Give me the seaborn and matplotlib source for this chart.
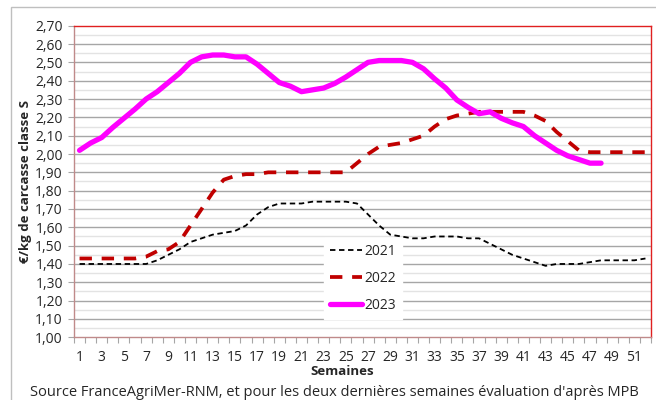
import numpy as np
import pandas as pd
import matplotlib
matplotlib.use("Agg")
import matplotlib.pyplot as plt
import seaborn as sns
from matplotlib.ticker import FuncFormatter, MultipleLocator
from matplotlib.patches import Rectangle

# Weekly prices (EUR/kg carcass, class S)
weeks = list(range(1, 53))

prix_2021 = [1.40, 1.40, 1.40, 1.40, 1.40, 1.40, 1.40, 1.42, 1.45, 1.48,
             1.52, 1.54, 1.56, 1.57, 1.58, 1.61, 1.67, 1.71, 1.73, 1.73,
             1.73, 1.74, 1.74, 1.74, 1.74, 1.73, 1.67, 1.61, 1.56, 1.55,
             1.54, 1.54, 1.55, 1.55, 1.55, 1.54, 1.54, 1.51, 1.48, 1.45,
             1.43, 1.41, 1.39, 1.40, 1.40, 1.40, 1.41, 1.42, 1.42, 1.42,
             1.42, 1.43]

prix_2022 = [1.43, 1.43, 1.43, 1.43, 1.43, 1.43, 1.44, 1.47, 1.48, 1.52,
             1.61, 1.70, 1.79, 1.86, 1.88, 1.89, 1.89, 1.90, 1.90, 1.90,
             1.90, 1.90, 1.90, 1.90, 1.90, 1.95, 2.00, 2.04, 2.05, 2.06,
             2.08, 2.10, 2.15, 2.19, 2.21, 2.22, 2.23, 2.23, 2.23, 2.23,
             2.23, 2.21, 2.18, 2.12, 2.07, 2.02, 2.01, 2.01, 2.01, 2.01,
             2.01, 2.01]

prix_2023 = [2.02, 2.06, 2.09, 2.145, 2.195, 2.245, 2.30, 2.34, 2.39, 2.44,
             2.50, 2.53, 2.54, 2.54, 2.53, 2.53, 2.49, 2.44, 2.39, 2.37,
             2.34, 2.35, 2.36, 2.385, 2.42, 2.46, 2.50, 2.51, 2.51, 2.51,
             2.50, 2.465, 2.41, 2.36, 2.295, 2.255, 2.22, 2.23, 2.195, 2.17,
             2.15, 2.10, 2.06, 2.02, 1.99, 1.97, 1.95, 1.95]

df21 = pd.DataFrame({"semaine": weeks, "prix": prix_2021})
df22 = pd.DataFrame({"semaine": weeks, "prix": prix_2022})
df23 = pd.DataFrame({"semaine": weeks[:len(prix_2023)], "prix": prix_2023})

sns.set_style("white")
plt.rcParams["font.family"] = ["Open Sans", "DejaVu Sans"]

fig = plt.figure(figsize=(6.56, 4.0), dpi=100)
ax = fig.add_axes([74 / 656, 1 - 337.3 / 400, 577 / 656, 311.6 / 400])

# Outer chart frame (only left and top visible)
fig.patches.append(Rectangle((10.5 / 656, -0.1), 1.2, 1 - 7 / 400 + 0.1,
                             transform=fig.transFigure, fill=False,
                             edgecolor="#bfbfbf", linewidth=1.0))

# Grid lines
for v in np.arange(1.05, 2.70, 0.10):
    ax.axhline(v, color="#e3e3e3", linewidth=1.0, zorder=0)
for v in np.arange(1.10, 2.65, 0.10):
    ax.axhline(v, color="#a6a6a6", linewidth=1.0, zorder=0)

sns.lineplot(data=df21, x="semaine", y="prix", ax=ax, color="black",
             linewidth=1.3, label="2021")
ax.lines[-1].set_dashes((3, 2))
sns.lineplot(data=df22, x="semaine", y="prix", ax=ax, color="#c00000",
             linewidth=2.7, label="2022")
ax.lines[-1].set_dashes((3.3, 2.6))
sns.lineplot(data=df23, x="semaine", y="prix", ax=ax, color="#ff00ff",
             linewidth=3.8, label="2023")
for ln in ax.lines:
    ln.set_solid_capstyle("round")
    ln.set_solid_joinstyle("round")

ax.set_xlim(0.5, 52.5)
ax.set_ylim(1.0, 2.70)

ax.yaxis.set_major_locator(MultipleLocator(0.10))
ax.yaxis.set_major_formatter(FuncFormatter(lambda v, p: f"{v:.2f}".replace(".", ",")))
ax.set_xticks(list(range(1, 53, 2)))
ax.set_xticklabels([str(w) for w in range(1, 53, 2)])
ax.set_xticks(np.arange(0.5, 53, 1.0), minor=True)
ax.tick_params(axis="x", which="major", length=0, pad=9, labelsize=10)
ax.tick_params(axis="x", which="minor", length=4, width=0.8, color="#a6a6a6",
               direction="out", bottom=True)
ax.tick_params(axis="y", which="major", length=4, width=0.8, color="#a6a6a6",
               direction="out", left=True, labelsize=10, pad=4)

for side in ["top", "right"]:
    ax.spines[side].set_color("#e02020")
    ax.spines[side].set_linewidth(1.0)
for side in ["left", "bottom"]:
    ax.spines[side].set_color("#c08a8a")
    ax.spines[side].set_linewidth(1.0)

ax.set_ylabel("€/kg de carcasse classe S", fontsize=9.5, fontweight="bold")
ax.yaxis.set_label_coords(-0.073, 0.5)
ax.set_xlabel("Semaines", fontsize=9.5, fontweight="bold")
ax.xaxis.set_label_coords(0.465, -0.088)

leg = ax.legend(loc="lower left", bbox_to_anchor=(0.433, 0.059), frameon=True,
                fontsize=10, handlelength=2.3, labelspacing=0.85,
                borderpad=0.45, handletextpad=0.15, borderaxespad=0)
leg.get_frame().set_facecolor("white")
leg.get_frame().set_edgecolor("white")
leg.get_frame().set_alpha(1.0)
leg.get_frame().set_boxstyle("square", pad=0)

fig.text(30 / 656, 1 - 392 / 400,
         "Source FranceAgriMer-RNM, et pour les deux dernières semaines évaluation d'après MPB",
         fontsize=10.5, va="center", ha="left")

fig.savefig("out.png", dpi=100)
